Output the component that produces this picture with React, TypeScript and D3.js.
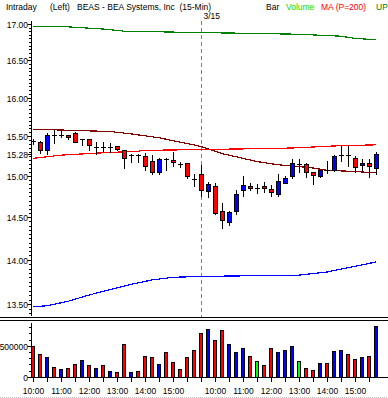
import { useEffect, useRef } from "react";
import * as d3 from "d3";

// bar times, two sessions (15-min bars)
const dayOne = ["10:00","10:15","10:30","10:45","11:00","11:15","11:30","11:45","12:00","12:15","12:30","12:45","13:00","13:15","13:30","13:45","14:00","14:15","14:30","14:45","15:00","15:15","15:30","15:45"];
const dayTwo = ["9:30","9:45","10:00","10:15","10:30","10:45","11:00","11:15","11:30","11:45","12:00","12:15","12:30","12:45","13:00","13:15","13:30","13:45","14:00","14:15","14:30","14:45","15:00","15:15","15:30","15:45"];
const times = [...dayOne, ...dayTwo];

const open = [15.44,15.42,15.32,15.52,15.52,15.51,15.54,15.46,15.46,15.36,15.36,15.36,15.37,15.32,15.26,15.26,15.25,15.19,15.05,15.21,15.20,15.15,15.16,14.96,15.02,14.81,14.88,14.57,14.44,14.58,14.83,14.88,14.85,14.88,14.84,14.78,14.92,15.00,15.15,15.15,15.05,15.00,15.07,15.07,15.26,15.26,15.23,15.13,15.16,15.11];
const high = [15.47,15.44,15.54,15.58,15.59,15.52,15.55,15.47,15.47,15.42,15.42,15.41,15.38,15.33,15.27,15.27,15.29,15.26,15.22,15.22,15.30,15.18,15.16,15.03,15.14,14.93,14.91,14.67,14.58,14.83,15.00,14.91,14.90,14.93,14.89,15.02,15.00,15.21,15.21,15.16,15.05,15.08,15.19,15.26,15.38,15.38,15.25,15.21,15.21,15.30];
const low = [15.40,15.29,15.28,15.41,15.49,15.46,15.42,15.39,15.32,15.28,15.30,15.30,15.32,15.10,15.17,15.17,15.07,15.03,15.03,15.07,15.12,15.11,14.98,14.88,14.75,14.74,14.54,14.37,14.41,14.54,14.75,14.83,14.79,14.80,14.75,14.75,14.91,14.98,15.05,14.99,14.90,14.99,15.04,15.06,15.19,15.12,15.05,15.07,14.99,15.02];
const close = [15.44,15.32,15.51,15.52,15.52,15.49,15.43,15.46,15.38,15.36,15.36,15.36,15.33,15.22,15.26,15.26,15.12,15.05,15.21,15.21,15.17,15.15,15.00,14.96,14.82,14.90,14.55,14.46,14.56,14.78,14.89,14.86,14.85,14.85,14.80,14.94,14.98,15.16,15.15,15.05,15.01,15.07,15.07,15.25,15.26,15.26,15.12,15.16,15.12,15.28];

const volume = [495000,361000,313000,152000,119000,135000,200000,265000,184000,135000,184000,87000,71000,522000,71000,87000,329000,313000,200000,394000,232000,119000,313000,426000,700000,769000,592000,753000,527000,394000,458000,329000,248000,184000,458000,394000,426000,490000,248000,135000,103000,221000,221000,410000,426000,361000,281000,313000,329000,818000];
// d = down, u = up, n = unchanged
const volDir = ["d","d","u","d","u","d","d","u","d","u","d","u","d","d","u","d","d","d","u","d","d","d","d","d","d","u","d","d","u","u","u","d","n","d","d","u","u","u","n","d","d","u","d","u","u","d","d","u","d","u"];

// overlay lines, read at bar index
const maAt = [0, 4, 10, 15, 16, 31, 37, 44, 49];
const maVal = [15.22, 15.26, 15.29, 15.31, 15.32, 15.34, 15.35, 15.38, 15.39];
const midAt = [0, 11, 14, 18, 24, 27, 30, 32, 35, 40, 42, 45, 49];
const midVal = [15.59, 15.56, 15.53, 15.48, 15.37, 15.28, 15.22, 15.18, 15.14, 15.10, 15.07, 15.06, 15.04];
const upAt = [0, 5, 10, 13, 24, 31, 38, 44, 46, 49];
const upVal = [16.96, 16.96, 16.93, 16.90, 16.88, 16.87, 16.857, 16.83, 16.80, 16.78];
const dnAt = [0, 2, 5, 8, 11, 14, 17, 20, 24, 38, 42, 45, 49];
const dnVal = [13.47, 13.48, 13.53, 13.60, 13.66, 13.72, 13.77, 13.80, 13.81, 13.825, 13.86, 13.91, 13.975];

const priceTicks = [13.5, 14, 14.5, 15, 15.5, 16, 16.5, 17];
const lastPrice = 15.28;
const volTicks = [0, 500000];

const W = 388;
const H = 398;
const FONT = "'Liberation Sans', Arial, sans-serif";

export default function App() {
  const svgRef = useRef<SVGSVGElement | null>(null);

  useEffect(() => {
    const svg = d3.select(svgRef.current);
    svg.selectAll("*").remove();
    svg.attr("width", W).attr("height", H).style("font-family", FONT).style("font-size", "8.5px");

    const x = d3.scalePoint<number>().domain(d3.range(times.length)).range([33, 376]);
    const cx = (i: number) => Math.round(x(i) as number);
    const y = d3.scaleLog().domain([13.5, 17]).range([304, 24]);
    const yv = d3.scaleLinear().domain([0, 500000]).range([376.7, 345.7]);
    const axisX = 31.5;

    svg.append("rect").attr("width", W).attr("height", H).attr("fill", "#fff");

    // header
    const head = svg.append("g");
    const headItems: [string, number, string][] = [
      ["Intraday", 6, "#000"],
      ["(Left)", 50, "#000"],
      ["BEAS - BEA Systems, Inc  (15-Min)", 77, "#000"],
      ["Bar", 266, "#000"],
      ["Volume", 286, "#00e000"],
      ["MA (P=200)", 321, "#ff0000"],
      ["UP", 376, "#008000"],
    ];
    head.selectAll("text").data(headItems).join("text")
      .attr("x", (d) => d[1]).attr("y", 10)
      .attr("fill", (d) => d[2])
      .style("white-space", "pre")
      .text((d) => d[0]);

    // session divider
    const divX = cx(dayOne.length) + 0.5;
    svg.append("line")
      .attr("x1", divX).attr("x2", divX).attr("y1", 21).attr("y2", 318)
      .attr("stroke", "#808080").attr("stroke-dasharray", "4,3");
    svg.append("text").attr("x", divX + 2).attr("y", 18.5).text("3/15");

    // price axis
    svg.append("line").attr("x1", axisX).attr("x2", axisX).attr("y1", 21).attr("y2", 316).attr("stroke", "#000");
    const minor = d3.range(1340, 1701, 5).map((v) => v / 100);
    svg.append("g").selectAll("line").data(minor).join("line")
      .attr("x1", 29).attr("x2", axisX)
      .attr("y1", (d) => Math.round(y(d)) + 0.5).attr("y2", (d) => Math.round(y(d)) + 0.5)
      .attr("stroke", "#000");
    const majors = [...priceTicks, lastPrice];
    const pt = svg.append("g").selectAll("g").data(majors).join("g")
      .attr("transform", (d) => `translate(0,${Math.round(y(d)) + 0.5})`);
    pt.append("line").attr("x1", 27.5).attr("x2", axisX).attr("stroke", "#000");
    pt.append("text").attr("x", 28).attr("y", 3).attr("text-anchor", "end").text((d) => d3.format(".2f")(d));

    // overlay lines
    const lines: [number[], number[], string][] = [
      [upAt, upVal, "#008000"],
      [dnAt, dnVal, "#0000ff"],
      [midAt, midVal, "#800000"],
      [maAt, maVal, "#ff0000"],
    ];
    const lineGen = d3.line<[number, number]>().x((d) => x(d[0]) as number).y((d) => y(d[1]));
    lines.forEach(([at, val, col]) => {
      svg.append("path")
        .attr("d", lineGen(at.map((a, k) => [a, val[k]] as [number, number])))
        .attr("fill", "none").attr("stroke", col).attr("stroke-width", 1.2)
        .attr("shape-rendering", "crispEdges");
    });

    // candles
    const idx = d3.range(times.length);
    const cg = svg.append("g").attr("shape-rendering", "crispEdges");
    const c = cg.selectAll("g").data(idx).join("g");
    c.append("line")
      .attr("x1", (i) => cx(i) + 0.5).attr("x2", (i) => cx(i) + 0.5)
      .attr("y1", (i) => Math.round(y(high[i]))).attr("y2", (i) => Math.round(y(low[i])) + 1)
      .attr("stroke", "#000");
    c.filter((i) => open[i] === close[i]).append("line")
      .attr("x1", (i) => cx(i) - 2).attr("x2", (i) => cx(i) + 3)
      .attr("y1", (i) => Math.round(y(open[i])) + 0.5).attr("y2", (i) => Math.round(y(open[i])) + 0.5)
      .attr("stroke", "#000").attr("stroke-width", 1.5);
    c.filter((i) => open[i] !== close[i]).append("rect")
      .attr("x", (i) => cx(i) - 2 + 0.5).attr("width", 4)
      .attr("y", (i) => Math.round(y(Math.max(open[i], close[i]))) + 0.5)
      .attr("height", (i) => Math.max(1, Math.round(y(Math.min(open[i], close[i])) - y(Math.max(open[i], close[i])))))
      .attr("fill", (i) => (close[i] > open[i] ? "#0000ff" : "#ff0000"))
      .attr("stroke", "#000");

    // panel separator
    [317.5, 320.5].forEach((ly) =>
      svg.append("line").attr("x1", 0).attr("x2", W).attr("y1", ly).attr("y2", ly).attr("stroke", "#000").attr("stroke-width", 1.2)
    );

    // volume axis
    svg.append("line").attr("x1", axisX).attr("x2", axisX).attr("y1", 323).attr("y2", 377).attr("stroke", "#000");
    const vMinor = d3.range(0, 900000, 100000);
    svg.append("g").selectAll("line").data(vMinor).join("line")
      .attr("x1", 29).attr("x2", axisX)
      .attr("y1", (d) => Math.round(yv(d)) + 0.5).attr("y2", (d) => Math.round(yv(d)) + 0.5)
      .attr("stroke", "#000");
    const vt = svg.append("g").selectAll("g").data(volTicks).join("g")
      .attr("transform", (d) => `translate(0,${Math.round(yv(d)) + 0.5})`);
    vt.append("line").attr("x1", 27.5).attr("x2", axisX).attr("stroke", "#000");
    vt.append("text").attr("x", 28).attr("y", 3).attr("text-anchor", "end").text((d) => String(d));

    // volume bars
    const volCol: Record<string, string> = { d: "#ff0000", u: "#0000ff", n: "#00ff00" };
    svg.append("g").attr("shape-rendering", "crispEdges").selectAll("rect").data(idx).join("rect")
      .attr("x", (i) => cx(i) - 2 + 0.5).attr("width", 3)
      .attr("y", (i) => Math.round(yv(volume[i])) + 0.5)
      .attr("height", (i) => Math.round(yv(0)) - Math.round(yv(volume[i])))
      .attr("fill", (i) => volCol[volDir[i]])
      .attr("stroke", "#000");

    // time axis
    svg.append("line").attr("x1", axisX).attr("x2", W).attr("y1", 377.5).attr("y2", 377.5).attr("stroke", "#000");
    const tickIdx = idx.filter((i) => /:(00|30)$/.test(times[i]));
    svg.append("g").selectAll("line").data(tickIdx).join("line")
      .attr("x1", (i) => cx(i) + 0.5).attr("x2", (i) => cx(i) + 0.5)
      .attr("y1", 377).attr("y2", 382).attr("stroke", "#000");
    const labIdx = idx.filter((i) => /^1\d:00$/.test(times[i]));
    svg.append("g").selectAll("text").data(labIdx).join("text")
      .attr("x", (i) => cx(i) + 0.5).attr("y", 394).attr("text-anchor", "middle")
      .text((i) => times[i]);

    svg.append("line").attr("x1", 0).attr("x2", W).attr("y1", 397.5).attr("y2", 397.5)
      .attr("stroke", "#c0c0c0").attr("stroke-dasharray", "1,1");
  }, []);

  return (
    <div style={{ position: "absolute", left: 0, top: 0 }}>
      <svg ref={svgRef}></svg>
    </div>
  );
}
